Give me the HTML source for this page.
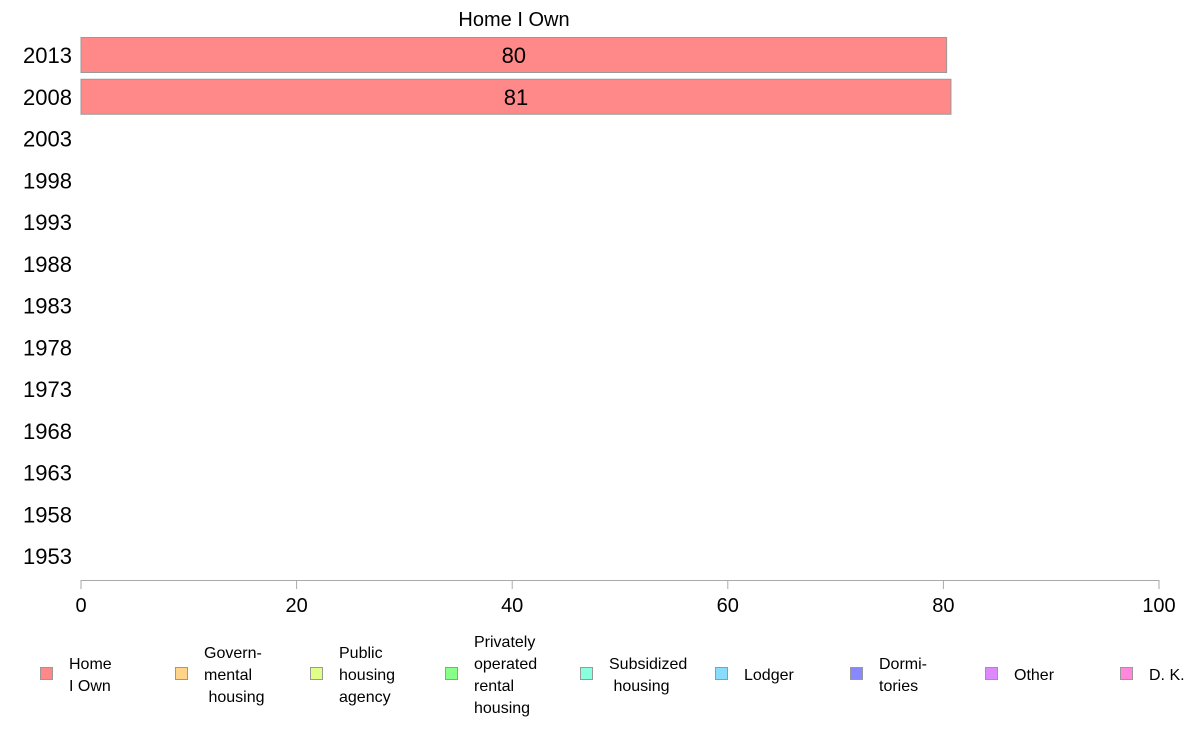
<!DOCTYPE html>
<html><head><meta charset="utf-8"><style>
html,body{margin:0;padding:0;background:#fff;}
svg{display:block;font-family:"Liberation Sans",Arial,sans-serif;}
</style></head><body>
<svg id="chart" width="1188" height="736" viewBox="0 0 1188 736">
<text x="514" y="26" text-anchor="middle" font-size="20" fill="#000">Home I Own</text>
<g id="yaxis"></g>
<g id="bars"></g>
<g id="xaxis"></g>
<g id="legend"></g>
</svg>
<script>
const years = ["2013","2008","2003","1998","1993","1988","1983","1978","1973","1968","1963","1958","1953"];
const homeOwnValues = [80.3, 80.7, null, null, null, null, null, null, null, null, null, null, null];
const homeOwnLabels = ["80","81","","","","","","","","","","",""];
const xTicks = [0,20,40,60,80,100];
const legendLabels = [["Home","I Own"],["Govern-","mental"," housing"],["Public","housing","agency"],["Privately","operated","rental","housing"],["Subsidized"," housing"],["Lodger"],["Dormi-","tories"],["Other"],["D. K."]];
const legendColors = ["#ff8888","#ffd488","#e0ff88","#88ff88","#88ffdd","#88ddff","#8888ff","#dd88ff","#ff88dd"];

const NS="http://www.w3.org/2000/svg";
const x0=81,x1=1159;
const xs=v=>x0+(v/100)*(x1-x0);
const ys=i=>55+i*41.75;
function mk(tag,attrs,parent){const e=document.createElementNS(NS,tag);for(const k in attrs)e.setAttribute(k,attrs[k]);parent.appendChild(e);return e;}
const yax=document.getElementById('yaxis'),bars=document.getElementById('bars'),xax=document.getElementById('xaxis'),leg=document.getElementById('legend');

years.forEach((y,i)=>{
  const t=mk('text',{x:72,y:ys(i)+8,'text-anchor':'end','font-size':22},yax);
  
  
  t.textContent=y;
  const v=homeOwnValues[i];
  if(v!=null){
    const r=mk('rect',{x:xs(0),y:ys(i)-17.5,width:xs(v)-xs(0),height:35,fill:'#ff8888',stroke:'#999','stroke-width':1},bars);
    
    
    const l=mk('text',{x:(xs(0)+xs(v))/2,y:ys(i)+8,'text-anchor':'middle','font-size':22},bars);
    
    
    l.textContent=homeOwnLabels[i];
  }
});

const al=mk('line',{x1:x0,x2:x1,y1:580.5,y2:580.5,stroke:'#aaa','stroke-width':1},xax);


xTicks.forEach(v=>{
  const tk=mk('line',{x1:xs(v),x2:xs(v),y1:580,y2:589,stroke:'#aaa','stroke-width':1},xax);
  
  
  const t=mk('text',{x:xs(v),y:612,'text-anchor':'middle','font-size':20},xax);
  
  
  t.textContent=v;
});

legendLabels.forEach((lines,i)=>{
  const sx=40+i*135;
  const g=mk('g',{},leg);
  
  
  mk('rect',{x:sx+0.5,y:667.5,width:12,height:12,fill:legendColors[i],stroke:'#999','stroke-width':1},g);
  const n=lines.length,start=674-(n-1)*11;
  lines.forEach((ln,j)=>{
    const t=mk('text',{x:sx+29,y:start+j*22+6,'font-size':16,'xml:space':'preserve'},g);
    
    
    t.style.whiteSpace='pre';
    t.textContent=ln;
  });
});
</script>
</body></html>
